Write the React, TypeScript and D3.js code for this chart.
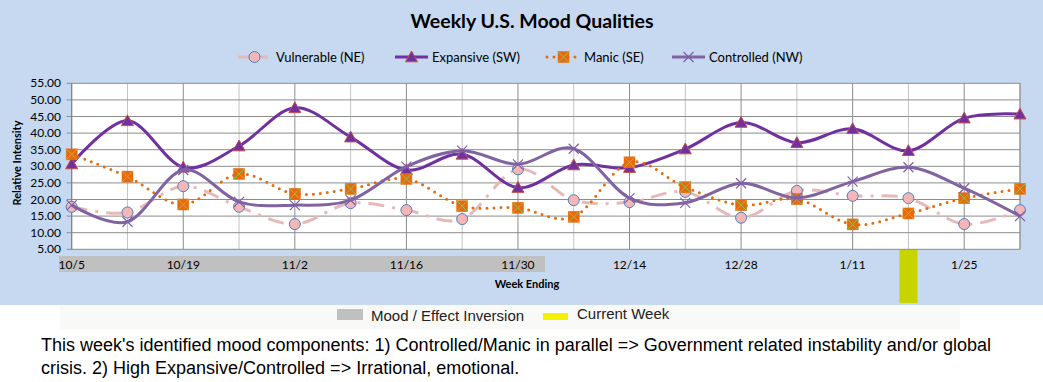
import React from "react";
import * as d3 from "d3";

const weeks = ["10/5","10/12","10/19","10/26","11/2","11/9","11/16","11/23","11/30","12/7","12/14","12/21","12/28","1/4","1/11","1/18","1/25","2/1"];
const tickLabelIdx = [0, 2, 4, 6, 8, 10, 12, 14, 16];
const yTicks = [5, 10, 15, 20, 25, 30, 35, 40, 45, 50, 55];

const vulnerable = [17.8, 16.1, 24.0, 17.8, 12.6, 18.9, 16.8, 14.1, 29.1, 19.8, 19.2, 22.3, 14.5, 22.6, 21.1, 20.4, 12.6, 16.8];
const expansive = [30.7, 43.7, 29.7, 36.1, 47.6, 38.8, 28.9, 33.6, 23.6, 30.4, 29.6, 35.2, 43.2, 37.1, 41.3, 34.7, 44.5, 45.7];
const manic = [33.6, 26.9, 18.5, 27.7, 21.7, 23.2, 26.2, 18.0, 17.5, 14.8, 31.2, 23.7, 18.3, 20.1, 12.5, 15.8, 20.4, 23.2];
const controlled = [18.3, 13.3, 28.9, 19.3, 18.3, 19.8, 29.9, 34.7, 30.6, 35.3, 20.4, 19.0, 24.9, 20.5, 25.4, 29.7, 23.4, 15.0];

const seriesNames = ["Vulnerable (NE)", "Expansive (SW)", "Manic (SE)", "Controlled (NW)"];
const currentWeek = 15;

const title = "Weekly U.S. Mood Qualities";
const footerLines = [
  "This week's identified mood components: 1) Controlled/Manic in parallel => Government related instability and/or global",
  "crisis. 2) High Expansive/Controlled => Irrational, emotional.",
];

const W = 1043, H = 382;
const CH = "Lato, 'Open Sans', sans-serif";
const AR = "'Liberation Sans', Arial, sans-serif";

type Marker = "circle" | "triangle" | "square" | "x";
const styles: { color: string; width: number; dash?: string; cap?: string; marker: Marker }[] = [
  { color: "#e6b9b8", width: 3, dash: "16 8 3 8", marker: "circle" },
  { color: "#7030a0", width: 3, marker: "triangle" },
  { color: "#e46c0a", width: 3, dash: "0 7", cap: "round", marker: "square" },
  { color: "#8064a2", width: 3, marker: "x" },
];
const dataSets = [vulnerable, expansive, manic, controlled];

function MarkerShape({ kind, cx, cy }: { kind: Marker; cx: number; cy: number }) {
  if (kind === "circle")
    return <circle cx={cx} cy={cy} r={5.5} fill="#f4b6b6" stroke="#4f81bd" strokeWidth={1} />;
  if (kind === "triangle") {
    const s = 6;
    return (
      <path
        d={`M${cx},${cy - s}L${cx + s},${cy + s * 0.8}L${cx - s},${cy + s * 0.8}Z`}
        fill="#7030a0"
        stroke="#c0504d"
        strokeWidth={1}
      />
    );
  }
  if (kind === "square") {
    const s = 5.5;
    return (
      <g>
        <rect x={cx - s} y={cy - s} width={2 * s} height={2 * s} fill="#e46c0a" stroke="#e46c0a" strokeWidth={0.5} />
        <path d={`M${cx - s},${cy - s}L${cx + s},${cy + s}M${cx + s},${cy - s}L${cx - s},${cy + s}`} stroke="#9bbb59" strokeWidth={1} />
      </g>
    );
  }
  const s = 5;
  return (
    <path
      d={`M${cx - s},${cy - s}L${cx + s},${cy + s}M${cx + s},${cy - s}L${cx - s},${cy + s}`}
      stroke="#7f5fa8"
      strokeWidth={1.2}
    />
  );
}

export default function App() {
  const x = d3.scaleLinear().domain([0, weeks.length - 1]).range([71.7, 1020]);
  const y = d3.scaleLinear().domain([5, 55]).range([249.3, 83.3]);
  const line = d3
    .line<number>()
    .x((_, i) => x(i))
    .y((d) => y(d))
    .curve(d3.curveCardinal.tension(0));

  const legendItems = [
    { x0: 238, tx: 276 },
    { x0: 395, tx: 432 },
    { x0: 547, tx: 584 },
    { x0: 672, tx: 709 },
  ];

  return (
    <div style={{ position: "absolute", left: 0, top: 0 }}>
      <svg width={W} height={H} style={{ display: "block" }}>
        <rect x={0} y={0} width={W} height={H} fill="#ffffff" />
        <rect x={0} y={0} width={W} height={305} fill="#c6d9f1" />
        <rect x={60} y={305} width={900} height={24} fill="#f9f9f8" />

        <text x={532} y={28} textAnchor="middle" fontFamily={CH} fontWeight="bold" fontSize={19.5} fill="#000">
          {title}
        </text>

        {/* legend */}
        {legendItems.map((it, k) => {
          const st = styles[k];
          const ly = 57;
          return (
            <g key={k}>
              <line
                x1={it.x0}
                x2={it.x0 + 33}
                y1={ly}
                y2={ly}
                stroke={st.color}
                strokeWidth={st.width}
                strokeDasharray={k === 0 ? "12 6" : st.dash}
                strokeLinecap={(st.cap as any) || "butt"}
              />
              <MarkerShape kind={st.marker} cx={it.x0 + 16.5} cy={ly} />
              <text x={it.tx} y={ly + 4.5} fontFamily={CH} fontSize={13} fill="#000">
                {seriesNames[k]}
              </text>
            </g>
          );
        })}

        {/* inversion band */}
        <rect x={59} y={256} width={545 - 59} height={16} fill="#c0c0c0" />
        {/* current week bar */}
        <rect x={x(currentWeek) - 9} y={249} width={18} height={54} fill="#c8d400" />

        {/* plot area */}
        <rect x={x(0)} y={y(55)} width={x(weeks.length - 1) - x(0)} height={y(5) - y(55)} fill="#ffffff" />
        {weeks.map((w, i) => (
          <line
            key={w}
            x1={x(i)}
            x2={x(i)}
            y1={y(55)}
            y2={y(5)}
            stroke={i % 2 === 0 ? "#8c8c8c" : "#c4c4c4"}
            strokeWidth={1}
          />
        ))}
        {yTicks.map((t) => (
          <g key={t}>
            <line x1={x(0) - 5} x2={x(weeks.length - 1)} y1={y(t)} y2={y(t)} stroke="#8c8c8c" strokeWidth={1} />
            <text x={61} y={y(t) + 4} textAnchor="end" fontFamily={CH} fontSize={12} fill="#000">
              {t.toFixed(2)}
            </text>
          </g>
        ))}
        <line x1={x(0)} x2={x(0)} y1={y(55)} y2={y(5)} stroke="#808080" />
        <line x1={x(weeks.length - 1)} x2={x(weeks.length - 1)} y1={y(55)} y2={y(5)} stroke="#808080" />

        {tickLabelIdx.map((i) => (
          <text key={i} x={x(i)} y={269} textAnchor="middle" fontFamily={CH} fontSize={12} fill="#000">
            {weeks[i]}
          </text>
        ))}

        <text x={527} y={288} textAnchor="middle" fontFamily={CH} fontWeight="bold" fontSize={11} fill="#000">
          Week Ending
        </text>
        <text
          transform={`translate(21,163) rotate(-90)`}
          textAnchor="middle"
          fontFamily={CH}
          fontWeight="bold"
          fontSize={11}
          fill="#000"
        >
          Relative Intensity
        </text>

        {/* series */}
        {dataSets.map((ds, k) => {
          const st = styles[k];
          return (
            <g key={k}>
              <path
                d={line(ds) || ""}
                fill="none"
                stroke={st.color}
                strokeWidth={st.width}
                strokeDasharray={st.dash}
                strokeLinecap={(st.cap as any) || "butt"}
              />
              {ds.map((v, i) => (
                <MarkerShape key={i} kind={st.marker} cx={x(i)} cy={y(v)} />
              ))}
            </g>
          );
        })}

        {/* footer legend */}
        <rect x={337} y={309} width={26} height={11} fill="#c0c0c0" />
        <text x={371} y={321} fontFamily={AR} fontSize={15} fill="#222">
          Mood / Effect Inversion
        </text>
        <rect x={543} y={313} width={25} height={7} fill="#f2f200" />
        <text x={577} y={319} fontFamily={AR} fontSize={15} fill="#222">
          Current Week
        </text>

        {footerLines.map((t, i) => (
          <text key={i} x={41} y={351} fontFamily={AR} fontSize={18} fill="#000" dy={i * 23}>
            {t}
          </text>
        ))}
      </svg>
    </div>
  );
}
